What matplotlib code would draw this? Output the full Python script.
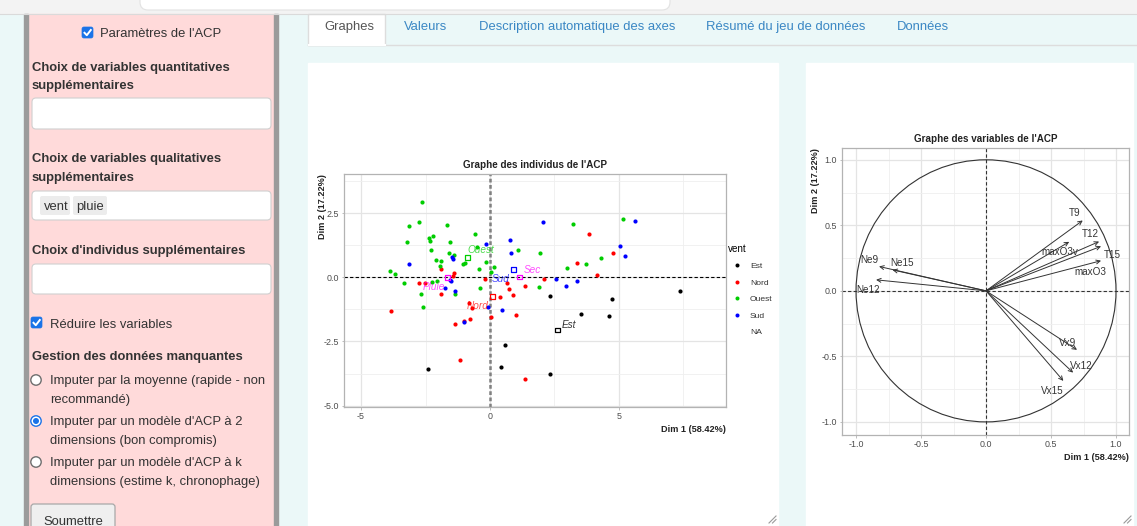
import numpy as np
import matplotlib
matplotlib.use('Agg')
import matplotlib.pyplot as plt
from matplotlib.patches import Rectangle, FancyBboxPatch, Circle
from matplotlib.lines import Line2D
from matplotlib.ticker import MultipleLocator

plt.rcParams['font.family'] = ['Liberation Sans', 'DejaVu Sans']
plt.rcParams['axes.unicode_minus'] = False

W, H = 1137, 526

# Individuals (Dim 1, Dim 2), split by wind direction
est_x = [7.36, 4.72, 4.61, 3.53, 2.32, 0.58, 0.44, 2.32, -2.40]
est_y = [-0.53, -0.86, -1.51, -1.42, -0.72, -2.65, -3.48, -3.77, -3.59]

nord_x = [-1.91, -1.41, -1.45, -2.74, -2.53, -1.91, -3.83, -0.81, -0.71, -0.78,
          -1.01, -1.36, -1.16, -0.21, 0.65, 0.74, 1.37, 2.08, 3.82, 3.39,
          4.15, 4.77, 0.39, 0.90, 0.05, 1.00, 1.37]
nord_y = [0.32, 0.17, 0.03, -0.22, -0.22, -0.66, -1.33, -0.99, -1.21, -1.63,
          -1.69, -1.82, -3.23, -0.06, -0.22, -0.46, -0.33, -0.07, 1.68, 0.56,
          0.10, 0.95, -0.76, -0.69, -1.55, -1.48, -3.96]

ouest_x = [-2.65, -2.76, -3.13, -1.65, -2.38, -2.31, -2.21, -3.20, -1.55, -2.29,
           -1.58, -1.40, -2.08, -1.89, -1.95, -1.03, -0.98, -3.86, -3.69, -3.33,
           -2.25, -2.04, -2.67, -2.61, -1.37, -0.57, -0.52, -0.16, -0.44, 0.15,
           0.05, -0.38, 1.09, 1.94, 3.23, 2.97, 3.72, 4.32, 5.17, 1.91]
ouest_y = [2.94, 2.17, 1.98, 2.04, 1.52, 1.42, 1.61, 1.38, 1.36, 1.08,
           0.95, 0.86, 0.68, 0.65, 0.43, 0.50, 0.55, 0.24, 0.13, -0.21,
           -0.17, -0.14, -0.64, -1.16, -0.66, 1.68, 1.16, 0.60, 0.31, 0.40,
           0.20, -0.40, 1.08, 0.95, 2.08, 0.36, 0.52, 0.76, 2.28, -0.36]

sud_x = [-1.48, -1.42, -3.13, -1.55, -1.50, -1.76, -1.37, -1.00, -0.15, 0.78,
         0.80, 2.04, 2.57, 2.93, 3.36, 5.05, 5.23, 5.62, -0.08, 0.48]
sud_y = [0.79, 0.70, 0.52, -0.12, -0.14, -0.43, -0.53, -1.74, 1.29, 1.46,
         0.95, 2.16, -0.07, -0.33, -0.13, 1.22, 0.83, 2.18, -1.16, -1.29]

# Supplementary categories (vent, pluie)
cat_names = ['Est', 'Nord', 'Ouest', 'Sud', 'Pluie', 'Sec']
cat_x = [2.62, 0.09, -0.88, 0.92, -1.65, 1.14]
cat_y = [-2.06, -0.74, 0.78, 0.31, -0.01, 0.01]
cat_label_x = [3.07, -0.47, -0.35, 0.42, -2.18, 1.63]
cat_label_y = [-1.85, -1.13, 1.05, -0.06, -0.38, 0.28]

# Variables (correlation circle)
var_names = ['T9', 'T12', 'T15', 'Ne9', 'Ne12', 'Ne15', 'Vx9', 'Vx12', 'Vx15', 'maxO3v', 'maxO3']
var_x = [0.744, 0.87, 0.885, -0.823, -0.846, -0.72, 0.70, 0.67, 0.595, 0.64, 0.885]
var_y = [0.537, 0.376, 0.34, 0.186, 0.084, 0.16, -0.45, -0.624, -0.687, 0.374, 0.23]
var_label_x = [0.68, 0.80, 0.97, -0.90, -0.905, -0.65, 0.628, 0.73, 0.513, 0.57, 0.805]
var_label_y = [0.593, 0.435, 0.27, 0.237, 0.008, 0.216, -0.395, -0.57, -0.763, 0.298, 0.147]

tab_names = ['Graphes', 'Valeurs', 'Description automatique des axes',
             'Résumé du jeu de données', 'Données']

COL = {'Est': 'black', 'Nord': '#ff0000', 'Ouest': '#00cd00', 'Sud': '#0000ff',
       'Pluie': '#ff00ff', 'Sec': '#ff00ff'}
TXT = '#333333'
BLUE = '#1a73e8'


def px_axes(x0, y0, x1, y1):
    return fig.add_axes([x0 / W, 1 - y1 / H, (x1 - x0) / W, (y1 - y0) / H])


def style_panel(ax):
    ax.set_facecolor('white')
    ax.set_axisbelow(True)
    ax.grid(which='major', color='#e4e4e4', lw=0.9)
    ax.grid(which='minor', color='#efefef', lw=0.6)
    for s in ax.spines.values():
        s.set_color('#b3b3b3')
        s.set_linewidth(0.9)
    ax.tick_params(which='major', length=1.8, width=0.6, color='#b3b3b3',
                   labelsize=6.4, labelcolor='#4d4d4d', pad=1.6)
    ax.tick_params(which='minor', length=0)


fig = plt.figure(figsize=(W / 100, H / 100), dpi=100)
fig.patch.set_facecolor('#ebf8f8')

# ---------- page background, drawn in pixel coordinates ----------
bg = fig.add_axes([0, 0, 1, 1])
bg.set_xlim(0, W)
bg.set_ylim(H, 0)
bg.axis('off')

bg.add_patch(Rectangle((0, 0), W, 13, color='#f3f3f3'))
bg.add_patch(FancyBboxPatch((140, -8), 530, 18, boxstyle='round,pad=0,rounding_size=8',
                            fc='white', ec='#e2e2e2', lw=0.8))
bg.plot([0, W], [13.5, 13.5], color='#dadada', lw=0.8)

# sidebar
bg.add_patch(Rectangle((27, 14), 248, H - 14, color='#ffdada'))
bg.add_patch(Rectangle((24, 14), 3.5, H - 14, color='#9b9b9b'))
bg.add_patch(Rectangle((274, 14), 3.5, H - 14, color='#9b9b9b'))


def checkbox(x, y):
    bg.add_patch(FancyBboxPatch((x, y), 11, 11, boxstyle='round,pad=0,rounding_size=2',
                                fc=BLUE, ec=BLUE, lw=0.5))
    bg.plot([x + 2.5, x + 4.8, x + 8.8], [y + 5.8, y + 8.2, y + 3.0], color='white', lw=1.4)


def radio(x, y, on=False):
    bg.add_patch(Circle((x, y), 5.2, fc='white', ec=BLUE if on else '#6e6e6e', lw=1.0))
    if on:
        bg.add_patch(Circle((x, y), 3.0, fc=BLUE, ec='none'))


def input_box(y0, y1):
    bg.add_patch(FancyBboxPatch((32, y0), 239, y1 - y0, boxstyle='round,pad=0,rounding_size=4',
                                fc='white', ec='#d0d0d0', lw=0.8))


def side_text(x, y, s, bold=False, **kw):
    # matplotlib centres on the full box, nudge down to match the browser baseline
    bg.text(x, y + 2, s, fontsize=9.4, color=TXT, va='center',
            fontweight='bold' if bold else 'normal', **kw)


checkbox(82, 27)
side_text(100, 32, "Paramètres de l'ACP")
side_text(32, 66, 'Choix de variables quantitatives', bold=True)
side_text(32, 84, 'supplémentaires', bold=True)
input_box(98, 129)
side_text(32, 157, 'Choix de variables qualitatives', bold=True)
side_text(32, 176, 'supplémentaires', bold=True)
input_box(191, 220)
bg.add_patch(FancyBboxPatch((40, 196), 30, 19, boxstyle='round,pad=0,rounding_size=2', fc='#ececec', ec='none'))
bg.add_patch(FancyBboxPatch((73, 196), 34, 19, boxstyle='round,pad=0,rounding_size=2', fc='#ececec', ec='none'))
side_text(44, 205, 'vent')
side_text(76, 205, 'pluie')
side_text(32, 249, "Choix d'individus supplémentaires", bold=True)
input_box(264, 294)
checkbox(31, 317)
side_text(50, 323, 'Réduire les variables')
side_text(32, 355, 'Gestion des données manquantes', bold=True)
radio(36, 380)
radio(36, 421, on=True)
radio(36, 462)
sidebar_lines = [(379, 'Imputer par la moyenne (rapide - non'), (398, 'recommandé)'),
                 (420, "Imputer par un modèle d'ACP à 2"), (439, 'dimensions (bon compromis)'),
                 (461, "Imputer par un modèle d'ACP à k"), (480, 'dimensions (estime k, chronophage)')]
for yy, s in sidebar_lines:
    side_text(50, yy, s)
bg.add_patch(FancyBboxPatch((31, 504), 84, 40, boxstyle='round,pad=0,rounding_size=3',
                            fc='#efefef', ec='#a8a8a8', lw=0.9))
side_text(73, 520, 'Soumettre', ha='center')

# tabs
bg.plot([308, W], [44.5, 44.5], color='#dddddd', lw=1)
bg.add_patch(Rectangle((308, 14), 77, 31, fc='white', ec='#dddddd', lw=1))
bg.plot([308.5, 384.5], [44.5, 44.5], color='white', lw=1.5)
tab_x = [324, 404, 479, 706, 897]
for i, (tx, name) in enumerate(zip(tab_x, tab_names)):
    bg.text(tx, 27, name, fontsize=9.4, va='center',
            color='#555555' if i == 0 else '#3a87c4')

# white plot cards
bg.add_patch(Rectangle((308, 63), 470, 470, color='white'))
bg.add_patch(Rectangle((806, 63), 327, 470, color='white'))
for cx in (776, 1131):
    bg.plot([cx - 7, cx], [523, 516], color='#9a9a9a', lw=0.8)
    bg.plot([cx - 3.5, cx], [523, 519.5], color='#9a9a9a', lw=0.8)

# ---------- individuals plot ----------
ax1 = px_axes(344, 174, 726, 407)
style_panel(ax1)
groups = [('Est', est_x, est_y), ('Nord', nord_x, nord_y),
          ('Ouest', ouest_x, ouest_y), ('Sud', sud_x, sud_y)]
for name, xs, ys in groups:
    ax1.scatter(xs, ys, s=9, color=COL[name], lw=0, zorder=3)
ax1.axhline(0, color='black', lw=0.8, ls=(0, (3, 2)), zorder=2)
ax1.axvline(0, color='#808080', lw=1.8, ls=(0, (1.5, 1)), zorder=2)
ax1.scatter(cat_x, cat_y, s=11, marker='s', facecolors='none',
            edgecolors=[COL[n] for n in cat_names], lw=0.9, zorder=4)
for n, lx, ly in zip(cat_names, cat_label_x, cat_label_y):
    ax1.text(lx, ly, n, color=COL[n], alpha=0.7 if n != 'Est' else 0.8,
             style='italic', fontsize=7.2, ha='center', va='center', zorder=5)
ax1.set_xlim(-5.66, 9.15)
ax1.set_ylim(-5.05, 4.02)
ax1.xaxis.set_major_locator(MultipleLocator(5))
ax1.xaxis.set_minor_locator(MultipleLocator(2.5))
ax1.yaxis.set_major_locator(MultipleLocator(2.5))
ax1.yaxis.set_minor_locator(MultipleLocator(1.25))
ax1.set_title("Graphe des individus de l'ACP", fontsize=7.1, fontweight='bold', color='#222222', pad=4)
ax1.set_xlabel('Dim 1 (58.42%)', loc='right', fontsize=6.6, fontweight='bold', color='#222222', labelpad=3)
ax1.set_ylabel('Dim 2 (17.22%)', loc='top', fontsize=6.6, fontweight='bold', color='#222222', labelpad=-2.5)

handles = [Line2D([0], [0], marker='o', ls='none', color=COL[n], markersize=2.9, markeredgewidth=0)
           for n in ['Est', 'Nord', 'Ouest', 'Sud']]
handles.append(Line2D([0], [0], ls='none'))
leg = ax1.legend(handles, ['Est', 'Nord', 'Ouest', 'Sud', 'NA'], title='vent',
                 loc='upper left', bbox_to_anchor=(728 / W, 1 - 244 / H),
                 bbox_transform=fig.transFigure, frameon=False, fontsize=6.1,
                 title_fontsize=7.1, borderpad=0, borderaxespad=0, handlelength=2.2,
                 handletextpad=0.4, labelspacing=1.0, alignment='left')
for t in leg.get_texts():
    t.set_color('#333333')

# ---------- variables plot ----------
ax2 = px_axes(842, 148, 1129, 435)
style_panel(ax2)
ax2.add_patch(Circle((0, 0), 1, fill=False, ec='#333333', lw=0.8))
ax2.axhline(0, color='#333333', lw=0.8, ls=(0, (3, 2)))
ax2.axvline(0, color='#333333', lw=0.8, ls=(0, (3, 2)))
for vx, vy in zip(var_x, var_y):
    ax2.annotate('', xy=(vx, vy), xytext=(0, 0),
                 arrowprops=dict(arrowstyle='->', color='#333333', lw=0.7,
                                 shrinkA=0, shrinkB=0, mutation_scale=7))
for n, lx, ly in zip(var_names, var_label_x, var_label_y):
    ax2.text(lx, ly, n, fontsize=7.1, color='#333333', ha='center', va='center')
ax2.set_xlim(-1.108, 1.1)
ax2.set_ylim(-1.10, 1.09)
ax2.xaxis.set_major_locator(MultipleLocator(0.5))
ax2.xaxis.set_minor_locator(MultipleLocator(0.25))
ax2.yaxis.set_major_locator(MultipleLocator(0.5))
ax2.yaxis.set_minor_locator(MultipleLocator(0.25))
ax2.set_title("Graphe des variables de l'ACP", fontsize=7.1, fontweight='bold', color='#222222', pad=4)
ax2.set_xlabel('Dim 1 (58.42%)', loc='right', fontsize=6.6, fontweight='bold', color='#222222', labelpad=3)
ax2.set_ylabel('Dim 2 (17.22%)', loc='top', fontsize=6.6, fontweight='bold', color='#222222', labelpad=1)

fig.savefig('out.png', dpi=100)
